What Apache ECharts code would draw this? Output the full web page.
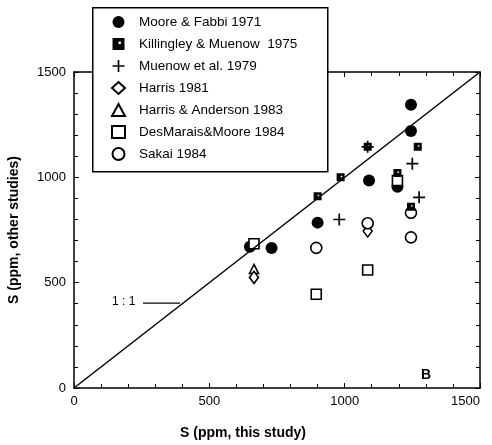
<!DOCTYPE html>
<html>
<head>
<meta charset="utf-8">
<script src="https://cdn.jsdelivr.net/npm/echarts@6/dist/echarts.min.js"></script>
<style>
  html, body { margin: 0; padding: 0; background: #fff; }
  #chart { width: 492px; height: 445px; }
</style>
</head>
<body>
<div id="chart"></div>
<script>
// values (ppm)
const mooreX = [650, 730, 900, 1090, 1195, 1245, 1245];
const mooreY = [670, 665, 785, 985, 955, 1220, 1345];
const killX = [900, 985, 1085, 1195, 1245, 1270];
const killY = [910, 1000, 1145, 1020, 860, 1145];
const muenowX = [980, 1085, 1250, 1275];
const muenowY = [800, 1145, 1065, 905];
const harrisX = [665, 1085];
const harrisY = [525, 745];
const haX = [665];
const haY = [565];
const desX = [665, 895, 1085, 1195];
const desY = [685, 445, 560, 985];
const sakaiX = [895, 1085, 1245, 1245];
const sakaiY = [665, 782, 832, 715];

const names = [
  'Moore & Fabbi 1971',
  'Killingley & Muenow  1975',
  'Muenow et al. 1979',
  'Harris 1981',
  'Harris & Anderson 1983',
  'DesMarais&Moore 1984',
  'Sakai 1984'
];
const oneToOne = [[0, 0], [1500, 1500]];
const leader = [[255, 403], [392, 403]];

const FONT = '"Liberation Sans", Arial, sans-serif';

function pts(xs, ys) {
  return xs.map((x, i) => [x, ys[i]]);
}

const solidStyle = { color: '#000', opacity: 1 };
const openStyle = { color: '#fff', borderColor: '#000', borderWidth: 1.6, opacity: 1 };

let chart = echarts.init(document.getElementById('chart'));

let option = {
  animation: false,
  grid: { left: 74, right: 12, top: 72, bottom: 57, outerBoundsMode: 'none' },
  xAxis: [
    {
      type: 'value', min: 0, max: 1500, interval: 500,
      axisLine: { lineStyle: { color: '#000', width: 1.5 } },
      axisTick: { inside: true, length: 5, lineStyle: { color: '#000' } },
      minorTick: { show: true, splitNumber: 5, length: 4, lineStyle: { color: '#000' } },
      axisLabel: { color: '#000', fontSize: 13, fontFamily: FONT, margin: 7, alignMaxLabel: 'right', formatter: v => String(v) },
      splitLine: { show: false }
    },
    {
      type: 'value', position: 'top', min: 0, max: 1500, interval: 500,
      axisLine: { onZero: false, lineStyle: { color: '#000', width: 1.5 } },
      axisTick: { inside: true, length: 5, lineStyle: { color: '#000' } },
      minorTick: { show: true, splitNumber: 5, length: 4, lineStyle: { color: '#000' } },
      axisLabel: { show: false },
      splitLine: { show: false }
    }
  ],
  yAxis: [
    {
      type: 'value', min: 0, max: 1500, interval: 500,
      axisLine: { show: true, lineStyle: { color: '#000', width: 1.5 } },
      axisTick: { show: true, inside: true, length: 5, lineStyle: { color: '#000' } },
      minorTick: { show: true, splitNumber: 5, length: 4, lineStyle: { color: '#000' } },
      axisLabel: { color: '#000', fontSize: 13, fontFamily: FONT, margin: 8, formatter: v => String(v) },
      splitLine: { show: false }
    },
    {
      type: 'value', position: 'right', min: 0, max: 1500, interval: 500,
      axisLine: { show: true, onZero: false, lineStyle: { color: '#000', width: 1.5 } },
      axisTick: { show: true, inside: true, length: 5, lineStyle: { color: '#000' } },
      minorTick: { show: true, splitNumber: 5, length: 4, lineStyle: { color: '#000' } },
      axisLabel: { show: false },
      splitLine: { show: false }
    }
  ],
  legend: {
    data: names,
    orient: 'vertical',
    left: 92,
    top: 7,
    z: 10,
    padding: [8, 20, 12, 19],
    itemWidth: 13,
    itemHeight: 12,
    itemGap: 8,
    selectedMode: false,
    textStyle: { color: '#000', fontSize: 13.5, fontFamily: FONT, padding: [0, 0, 0, 9] }
  },
  graphic: [
    {
      type: 'rect', z: 9, left: 92, top: 7,
      shape: { width: 235, height: 164 },
      style: { fill: '#fff', stroke: '#000', lineWidth: 1.5 }
    },
    {
      type: 'text', left: 112, top: 296,
      style: { text: '1 : 1', fill: '#000', font: '12px ' + FONT }
    },
    {
      type: 'text', left: 421, top: 368,
      style: { text: 'B', fill: '#000', font: 'bold 14px ' + FONT }
    },
    {
      type: 'text', x: 243, y: 433,
      style: { text: 'S (ppm, this study)', fill: '#000', font: 'bold 14px ' + FONT, align: 'center', verticalAlign: 'middle' }
    },
    {
      type: 'text', x: 14, y: 230, rotation: Math.PI / 2,
      style: { text: 'S (ppm, other studies)', fill: '#000', font: 'bold 14px ' + FONT, align: 'center', verticalAlign: 'middle' }
    }
  ],
  series: [
    {
      type: 'line', data: oneToOne, symbol: 'none', silent: true,
      lineStyle: { color: '#000', width: 1.5 }
    },
    {
      type: 'line', data: leader, symbol: 'none', silent: true,
      lineStyle: { color: '#000', width: 1.2 }
    },
    {
      name: names[0], type: 'scatter', data: pts(mooreX, mooreY),
      symbol: 'circle', symbolSize: 12, itemStyle: solidStyle
    },
    {
      name: names[4], type: 'scatter', data: pts(haX, haY),
      symbol: 'triangle', symbolSize: [9, 9], itemStyle: openStyle
    },
    {
      name: names[3], type: 'scatter', data: pts(harrisX, harrisY),
      symbol: 'diamond', symbolSize: [9, 12], itemStyle: openStyle
    },
    {
      name: names[6], type: 'scatter', data: pts(sakaiX, sakaiY),
      symbol: 'circle', symbolSize: 11, itemStyle: openStyle
    },
    {
      name: names[5], type: 'scatter', data: pts(desX, desY),
      symbol: 'rect', symbolSize: 10, itemStyle: openStyle
    },
    {
      name: names[1], type: 'scatter', data: pts(killX, killY),
      symbol: 'path://M0,0H10V10H0Z M5,3V5H7V3Z', symbolSize: 8,
      itemStyle: solidStyle
    },
    {
      name: names[2], type: 'scatter', data: pts(muenowX, muenowY),
      symbol: 'path://M4.3,0H5.7V4.3H10V5.7H5.7V10H4.3V5.7H0V4.3H4.3Z', symbolSize: 12,
      itemStyle: solidStyle
    }
  ]
};

chart.setOption(option);
</script>
</body>
</html>
